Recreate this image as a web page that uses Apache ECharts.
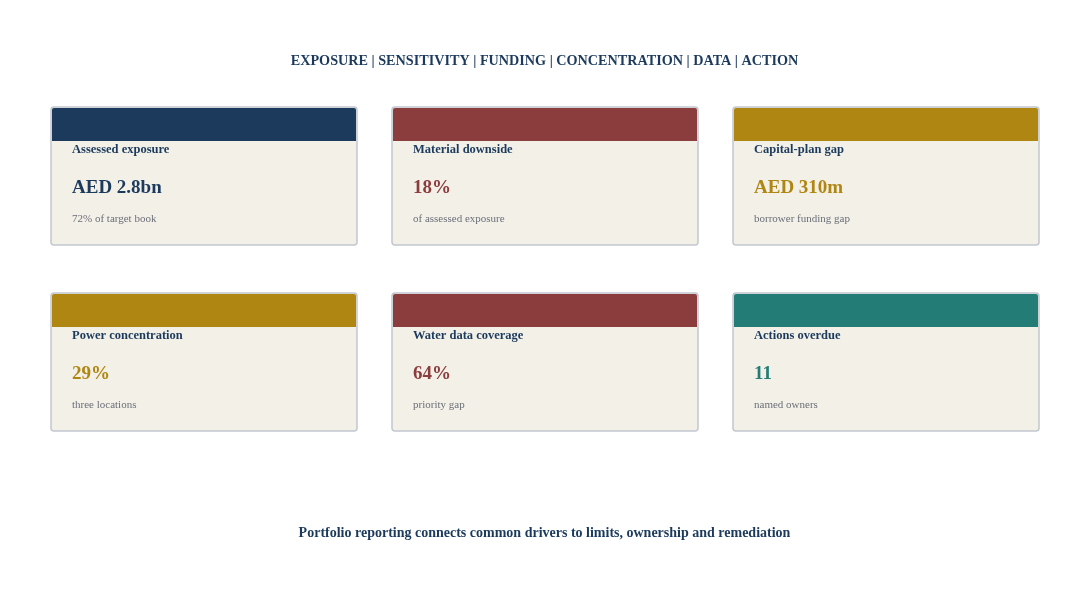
<!DOCTYPE html>
<html lang="en">
  <head>
    <meta charset="UTF-8" />
    <title>Portfolio KPI cards</title>
    <script src="https://cdn.jsdelivr.net/npm/echarts@6.0.0/dist/echarts.min.js"></script>
    <style>
      html, body { margin: 0; padding: 0; background: #fff; }
      #chart { width: 1089px; height: 610px; }
    </style>
  </head>
  <body>
    <div id="chart"></div>
    <script>
      var labels = ["Assessed exposure", "Material downside", "Capital-plan gap", "Power concentration", "Water data coverage", "Actions overdue"];
      var values = ["AED 2.8bn", "18%", "AED 310m", "29%", "64%", "11"];
      var notes = ["72% of target book", "of assessed exposure", "borrower funding gap", "three locations", "priority gap", "named owners"];
      var colors = ["#1b3a5c", "#8b3d3d", "#b08613", "#b08613", "#8b3d3d", "#237d76"];

      var font = "'Liberation Serif', 'Times New Roman', serif";
      var navy = "#1b3a5c";

      // card grid
      var left0 = 51, top0 = 107, cardW = 306, cardH = 138, gapX = 35, gapY = 48, bandH = 33;

      var elements = [];
      labels.forEach(function (lab, i) {
        var col = i % 3, row = Math.floor(i / 3);
        var x = left0 + col * (cardW + gapX);
        var y = top0 + row * (cardH + gapY);
        elements.push({
          type: "rect",
          shape: { x: x, y: y, width: cardW, height: cardH, r: 3 },
          style: { fill: "#f3f0e8", stroke: "#c2c8d0", lineWidth: 1.5 }
        });
        elements.push({
          type: "rect",
          shape: { x: x + 1, y: y + 1, width: cardW - 2, height: bandH, r: [2, 2, 0, 0] },
          style: { fill: colors[i] }
        });
        elements.push({
          type: "text",
          x: x + 21, y: y + 43,
          style: { text: lab, font: "bold 12.5px " + font, fill: navy, textVerticalAlign: "middle" }
        });
        elements.push({
          type: "text",
          x: x + 21, y: y + 81,
          style: { text: values[i], font: "bold 19px " + font, fill: colors[i], textVerticalAlign: "middle" }
        });
        elements.push({
          type: "text",
          x: x + 21, y: y + 112,
          style: { text: notes[i], font: "11px " + font, fill: "#6b6f78", textVerticalAlign: "middle" }
        });
      });

      var chart = echarts.init(document.getElementById("chart"));
      chart.setOption({
        backgroundColor: "#ffffff",
        title: [
          {
            text: "EXPOSURE | SENSITIVITY | FUNDING | CONCENTRATION | DATA | ACTION",
            left: "center", top: 49,
            textStyle: { fontFamily: font, fontSize: 14.2, fontWeight: "bold", color: navy }
          },
          {
            text: "Portfolio reporting connects common drivers to limits, ownership and remediation",
            left: "center", top: 521,
            textStyle: { fontFamily: font, fontSize: 14, fontWeight: "bold", color: navy }
          }
        ],
        graphic: { elements: elements }
      });
    </script>
  </body>
</html>
